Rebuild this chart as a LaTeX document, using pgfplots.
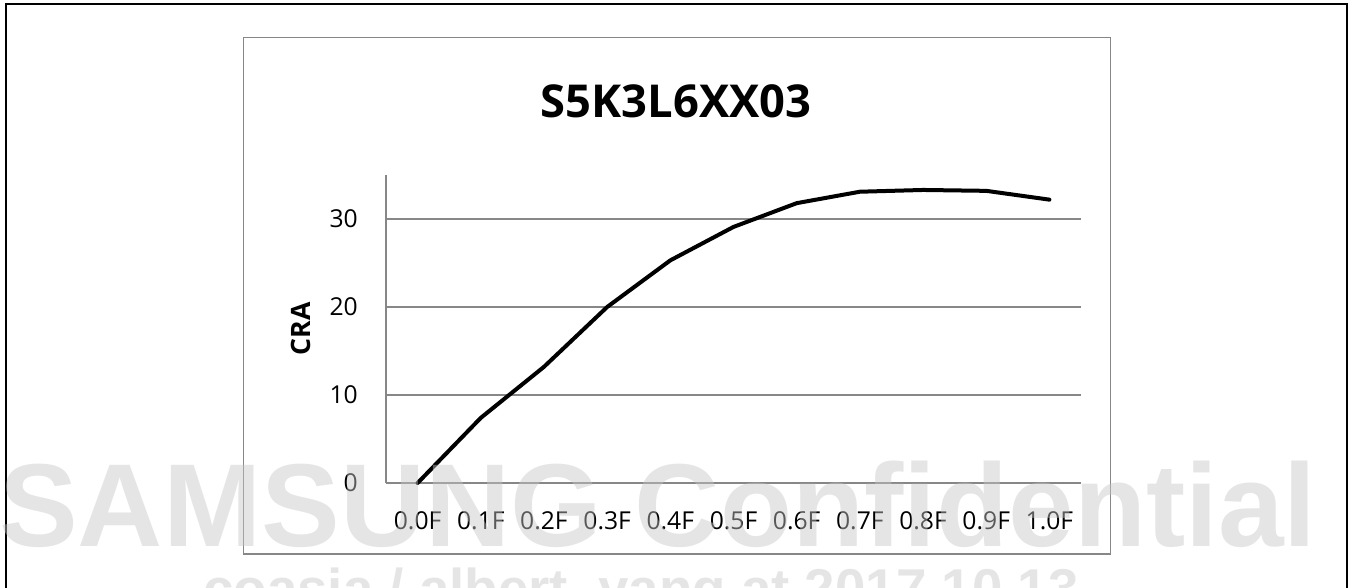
\documentclass[border=0pt]{standalone}
\usepackage{pgfplots}
\pgfplotsset{compat=1.18}
\usepackage{pgfplotstable}
\usepackage{fontspec}
\setmainfont{Open Sans}
\newfontfamily\wmfont{Liberation Sans}
\definecolor{axgray}{HTML}{878787}

\pgfplotstableread{
x y
0 0
1 7.4
2 13.2
3 20.0
4 25.3
5 29.1
6 31.8
7 33.1
8 33.3
9 33.2
10 32.2
}\cradata

\begin{document}
\begin{tikzpicture}
\useasboundingbox (0pt,0pt) rectangle (1014.75pt,-441pt);
\clip (0pt,0pt) rectangle (1014.75pt,-441pt);
\begin{scope}[x=0.75pt,y=-0.75pt]
\fill[white] (0,0) rectangle (1353,588);
\draw[black, line width=1.5pt] (6,4) rectangle (1347,700);
\draw[axgray, line width=1.4pt, fill=white] (243.5,37.5) rectangle (1110.5,554);
\node[font=\bfseries\fontsize{34}{40}\selectfont] at (676,101.7) {S5K3L6XX03};
\node[rotate=90, font=\bfseries\fontsize{20}{24}\selectfont] at (301,329) {CRA};
\end{scope}
\begin{axis}[
 at={(289.5pt,-362.25pt)}, anchor=south west,
 scale only axis, width=521.25pt, height=231pt,
 xmin=-0.5, xmax=10.5, ymin=0, ymax=35,
 axis x line*=bottom, axis y line*=left,
 axis line style={axgray, line width=1.1pt},
 xtick={0,1,2,3,4,5,6,7,8,9,10},
 xticklabels={0.0F,0.1F,0.2F,0.3F,0.4F,0.5F,0.6F,0.7F,0.8F,0.9F,1.0F},
 ytick={0,10,20,30},
 major tick length=0pt,
 ymajorgrids, grid style={axgray, line width=1.1pt},
 tick label style={font=\fontsize{18.5}{22}\selectfont, black},
 yticklabel style={anchor=east, inner sep=0pt, xshift=-21pt},
 xticklabel style={anchor=north, inner sep=0pt, yshift=-21pt},
 /pgf/number format/assume math mode=true,
 clip=false,
]
\addplot[black, line width=3pt, line join=round, line cap=round] table[x=x,y=y]{\cradata};
\end{axis}
\begin{scope}[x=0.75pt,y=-0.75pt]
\node[anchor=base, inner sep=0pt, text=black!22, opacity=0.45, font=\wmfont\bfseries\fontsize{88.5}{90}\selectfont] at (658,546) {SAMSUNG Confidential};
\node[anchor=base, inner sep=0pt, text=black!22, opacity=0.45, font=\wmfont\bfseries\fontsize{41}{45}\selectfont] at (641,607) {coasia / albert\_yang at 2017.10.13};
\end{scope}
\end{tikzpicture}
\end{document}
